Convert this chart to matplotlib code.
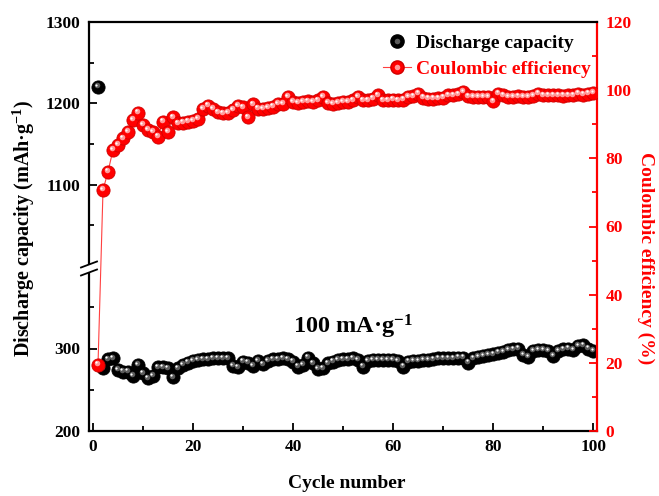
import numpy as np
import matplotlib.pyplot as plt
from matplotlib.lines import Line2D
from matplotlib.patches import Polygon
from matplotlib.legend_handler import HandlerTuple
from matplotlib.transforms import ScaledTranslation
from matplotlib.ticker import MultipleLocator

plt.rcParams['font.family'] = ['Liberation Serif', 'DejaVu Serif']
plt.rcParams['font.weight'] = 'bold'
plt.rcParams['mathtext.fontset'] = 'custom'
plt.rcParams['mathtext.rm'] = 'Liberation Serif:bold'
plt.rcParams['mathtext.it'] = 'Liberation Serif:bold'
plt.rcParams['mathtext.bf'] = 'Liberation Serif:bold'

# data
cycles = np.arange(1, 101)
discharge = [
    1220, 276, 287, 288, 274, 272, 272, 267, 280, 270,
    264, 267, 277, 277, 276, 265, 276, 280, 283, 285,
    286, 287, 287, 288, 288, 288, 288, 279, 277, 284,
    283, 279, 285, 281, 285, 287, 287, 288, 287, 284,
    278, 280, 289, 282, 275, 276, 282, 284, 286, 287,
    287, 288, 286, 278, 285, 286, 286, 286, 286, 286,
    285, 278, 284, 285, 285, 286, 286, 287, 288, 288,
    288, 288, 289, 289, 283, 288, 290, 291, 292, 293,
    295, 296, 298, 299, 300, 292, 290, 297, 298, 298,
    297, 291, 297, 299, 300, 298, 303, 304, 300, 297,
]
coulombic = [
    19.5, 70.7, 76.1, 82.5, 83.9, 85.9, 87.8, 91.3, 93.4, 89.8,
    88.3, 87.8, 86.4, 90.8, 87.8, 92.0, 90.3, 90.5, 90.8, 91.0,
    91.5, 94.5, 95.5, 94.5, 93.5, 93.2, 93.3, 94.2, 95.4, 95.0,
    92.0, 95.8, 94.6, 94.5, 94.8, 95.2, 96.0, 96.0, 98.0, 96.5,
    96.3, 96.5, 96.7, 96.5, 97.0, 98.0, 96.2, 96.0, 96.3, 96.5,
    96.5, 97.0, 98.0, 97.0, 97.0, 97.5, 98.5, 97.0, 97.0, 97.2,
    97.0, 97.2, 98.0, 98.2, 99.0, 97.8, 97.5, 97.5, 97.6, 97.8,
    98.5, 98.5, 98.8, 99.5, 98.2, 98.0, 98.0, 98.0, 98.0, 96.7,
    99.0, 98.5, 98.0, 98.0, 98.2, 98.0, 98.0, 98.3, 99.0, 98.5,
    98.5, 98.5, 98.5, 98.4, 98.5, 98.5, 99.0, 98.7, 99.0, 99.2,
]

W_PX, H_PX = 659, 496


def fx(px):
    return px / W_PX


def fy(py):
    return 1 - py / H_PX


def draw_balls(ax, x, y, color, edge, shade, zorder=3):
    """'sphere' markers: base disc + small offset highlight"""
    fig = ax.figure
    ax.plot(x, y, 'o', ls='none', ms=9.5, mfc=color, mec=edge, mew=0.6, zorder=zorder)
    off1 = ScaledTranslation(-1.0 / 72, 1.2 / 72, fig.dpi_scale_trans)
    off2 = ScaledTranslation(-1.3 / 72, 1.6 / 72, fig.dpi_scale_trans)
    ax.plot(x, y, 'o', ls='none', ms=4.0, mfc=shade, mec='none',
            transform=ax.transData + off1, zorder=zorder + 0.1)
    ax.plot(x, y, 'o', ls='none', ms=1.6, mfc='white', mec='none',
            transform=ax.transData + off2, zorder=zorder + 0.2)


def style_ticks(ax, **kw):
    ax.tick_params(which='both', direction='in', width=1.3, labelsize=12.5, **kw)
    ax.tick_params(which='major', length=6)
    ax.tick_params(which='minor', length=3.5)


def main():
    fig = plt.figure(figsize=(W_PX / 100, H_PX / 100), dpi=100)

    left, right = 89, 597
    top, brk, bottom = 22, 266, 431
    ax_lo = fig.add_axes([fx(left), fy(bottom), fx(right - left), (bottom - brk) / H_PX])
    ax_hi = fig.add_axes([fx(left), fy(brk), fx(right - left), (brk - top) / H_PX])
    ax_ce = fig.add_axes([fx(left), fy(bottom), fx(right - left), (bottom - top) / H_PX])
    ax_ce.patch.set_visible(False)

    xlim = (-0.8, 100.7)
    for ax in (ax_lo, ax_hi, ax_ce):
        ax.set_xlim(*xlim)
        for s in ax.spines.values():
            s.set_linewidth(1.6)

    # discharge capacity, broken left axis
    for ax in (ax_lo, ax_hi):
        draw_balls(ax, cycles, discharge, 'black', 'black', '#5c5c5c')
    ax_lo.set_ylim(200, 400)
    ax_hi.set_ylim(1000, 1300)
    ax_lo.set_yticks([200, 300])
    ax_lo.set_yticks([250, 350], minor=True)
    ax_hi.set_yticks([1100, 1200, 1300])
    ax_hi.set_yticks([1050, 1150, 1250], minor=True)
    ax_lo.xaxis.set_major_locator(MultipleLocator(20))
    ax_lo.xaxis.set_minor_locator(MultipleLocator(10))

    ax_lo.spines[['top', 'right']].set_visible(False)
    ax_hi.spines[['top', 'right', 'bottom']].set_visible(False)
    style_ticks(ax_lo, top=False, right=False, pad=6)
    style_ticks(ax_hi, top=False, right=False, bottom=False, labelbottom=False, pad=6)

    # coulombic efficiency, right axis
    ax_ce.plot(cycles, coulombic, '-', color='#ff4040', lw=0.8, zorder=2)
    draw_balls(ax_ce, cycles, coulombic, '#ff0000', '#d00000', '#ff9a9a', zorder=3)
    ax_ce.set_ylim(0, 120)
    ax_ce.yaxis.tick_right()
    ax_ce.yaxis.set_major_locator(MultipleLocator(20))
    ax_ce.yaxis.set_minor_locator(MultipleLocator(10))
    ax_ce.spines[['left', 'bottom']].set_visible(False)
    ax_ce.spines['right'].set_color('red')
    style_ticks(ax_ce, left=False, bottom=False, labelbottom=False, labelleft=False,
                right=True, labelright=True, color='red', labelcolor='red', pad=6)

    # break mark on the left spine
    y1, y2 = 261.5, 269.5
    gap = Polygon([[fx(82), fy(y1 + 6)], [fx(97), fy(y1)], [fx(97), fy(y2)], [fx(82), fy(y2 + 6)]],
                  closed=True, facecolor='white', edgecolor='none', transform=fig.transFigure, zorder=10)
    fig.add_artist(gap)
    for yy in (y1, y2):
        fig.add_artist(Line2D([fx(81), fx(97)], [fy(yy + 6), fy(yy)], color='black', lw=1.3,
                              transform=fig.transFigure, zorder=11))

    # labels
    fig.text(fx(347), fy(483), 'Cycle number', ha='center', va='center', fontsize=14)
    fig.text(fx(24), fy(228), 'Discharge capacity (mAh·g$^{-1}$)', rotation=90,
             ha='center', va='center', fontsize=14.5)
    fig.text(fx(646), fy(258), 'Coulombic efficiency (%)', rotation=270, color='red',
             ha='center', va='center', fontsize=14)
    fig.text(fx(353), fy(327), '100 mA·g$^{-1}$', ha='center', va='center', fontsize=17.5)

    # legend
    h_dc = (Line2D([], [], marker='o', ls='none', ms=9.5, mfc='black', mec='black'),
            Line2D([], [], marker='o', ls='none', ms=4.0, mfc='#5c5c5c', mec='none'))
    h_ce = (Line2D([], [], marker='o', ls='-', lw=0.8, color='#ff4040', ms=9.5, mfc='red', mec='#d00000'),
            Line2D([], [], marker='o', ls='none', ms=4.0, mfc='#ff9a9a', mec='none'))
    ax_ce.legend([h_dc, h_ce], ['Discharge capacity', 'Coulombic efficiency'],
                 handler_map={tuple: HandlerTuple(ndivide=1, pad=0)},
                 loc='upper right', bbox_to_anchor=(fx(591), fy(34)), bbox_transform=fig.transFigure,
                 frameon=False, fontsize=14, labelcolor=['black', 'red'],
                 handlelength=1.45, handletextpad=0.26, labelspacing=0.45,
                 borderpad=0, borderaxespad=0)

    plt.savefig('out.png', dpi=100)


if __name__ == '__main__':
    main()
